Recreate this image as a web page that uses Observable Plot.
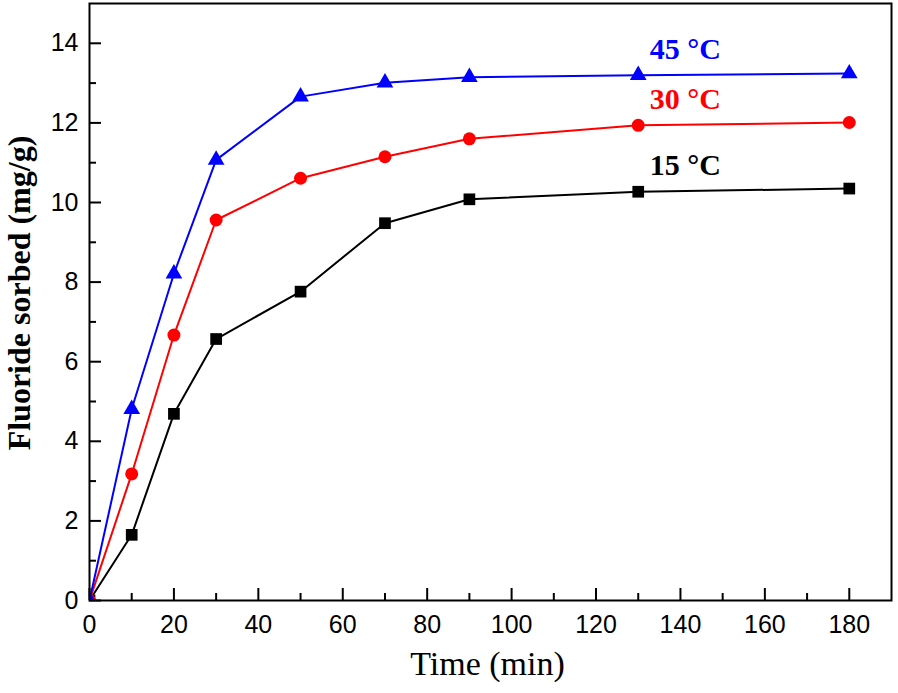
<!DOCTYPE html>
<html><head><meta charset="utf-8">
<script src="https://cdn.jsdelivr.net/npm/d3@7"></script>
<script src="https://cdn.jsdelivr.net/npm/@observablehq/plot@0.6"></script>
<style>body{margin:0;background:#fff}</style>
</head><body><div id="chart"></div>
<script>
// Data
const time = [0, 10, 20, 30, 50, 70, 90, 130, 180];
const s15 = [0, 1.65, 4.69, 6.57, 7.76, 9.48, 10.08, 10.27, 10.35];
const s30 = [0, 3.18, 6.67, 9.56, 10.61, 11.15, 11.60, 11.94, 12.01];
const s45 = [0, 4.81, 8.21, 11.07, 12.66, 13.01, 13.15, 13.20, 13.24];
const seriesNames = ["15 °C", "30 °C", "45 °C"];
const xMajor = [0, 20, 40, 60, 80, 100, 120, 140, 160, 180];
const xMinor = [10, 30, 50, 70, 90, 110, 130, 150, 170];
const yMajor = [0, 2, 4, 6, 8, 10, 12, 14];
const yMinor = [1, 3, 5, 7, 9, 11, 13];
const xTitle = "Time (min)";
const yTitle = "Fluoride sorbed (mg/g)";

const W = 898, H = 693, mL = 89, mR = 7, mT = 3, mB = 93;
const innerW = W - mL - mR, innerH = H - mT - mB;
const colors = ["#000000", "#ff0000", "#0000ff"];
const symbols = ["square", "circle", "triangle"];
const radii = [6.6, 6.5, 6.2];
const values = [s15, s30, s45];

const marks = [
  Plot.tickX(xMajor, {x: d => d, insetTop: innerH - 12, stroke: "black", strokeWidth: 2}),
  Plot.tickX(xMinor, {x: d => d, insetTop: innerH - 7, stroke: "black", strokeWidth: 2}),
  Plot.tickY(yMajor, {y: d => d, insetRight: innerW - 12, stroke: "black", strokeWidth: 2}),
  Plot.tickY(yMinor, {y: d => d, insetRight: innerW - 7, stroke: "black", strokeWidth: 2}),
  Plot.axisX({ticks: xMajor, tickSize: 0, tickPadding: 15, fontSize: 25, label: null, fill: "black"}),
  Plot.axisY({ticks: yMajor, tickSize: 0, tickPadding: 11, fontSize: 25, label: null, fill: "black"}),
];

values.forEach((vals, i) => {
  const rows = time.map((t, j) => ({t, v: vals[j]}));
  marks.push(Plot.line(rows, {x: "t", y: "v", stroke: colors[i], strokeWidth: 2, clip: true}));
  marks.push(Plot.dot(rows, {x: "t", y: "v", symbol: symbols[i], r: radii[i], fill: colors[i], stroke: "none", clip: true}));
});

const idx = time.indexOf(130);
const labelRows = seriesNames.map((name, i) => ({name, t: time[idx], v: values[i][idx], c: colors[i]}));
marks.push(Plot.text(labelRows, {x: "t", y: "v", text: "name", fill: "c", dx: 47, dy: -26,
  fontSize: 30, fontWeight: "bold", fontFamily: "Liberation Serif", lineAnchor: "middle"}));

marks.push(Plot.frame({stroke: "black", strokeWidth: 2}));
marks.push(Plot.text([xTitle], {text: d => d, frameAnchor: "bottom", dx: -3, dy: 64, fontSize: 34,
  fontFamily: "Liberation Serif", textAnchor: "middle", lineAnchor: "middle", fill: "black"}));
marks.push(Plot.text([yTitle], {text: d => d, frameAnchor: "left", dx: -70, dy: -9, rotate: -90, fontSize: 32,
  fontWeight: "bold", fontFamily: "Liberation Serif", textAnchor: "middle", lineAnchor: "middle", fill: "black"}));

const chart = Plot.plot({
  width: W, height: H,
  marginLeft: mL, marginRight: mR, marginTop: mT, marginBottom: mB,
  x: {domain: [0, 190]},
  y: {domain: [0, 15]},
  style: {background: "white", fontFamily: "Liberation Sans", color: "black"},
  marks
});
document.getElementById("chart").appendChild(chart);
</script>
</body></html>
